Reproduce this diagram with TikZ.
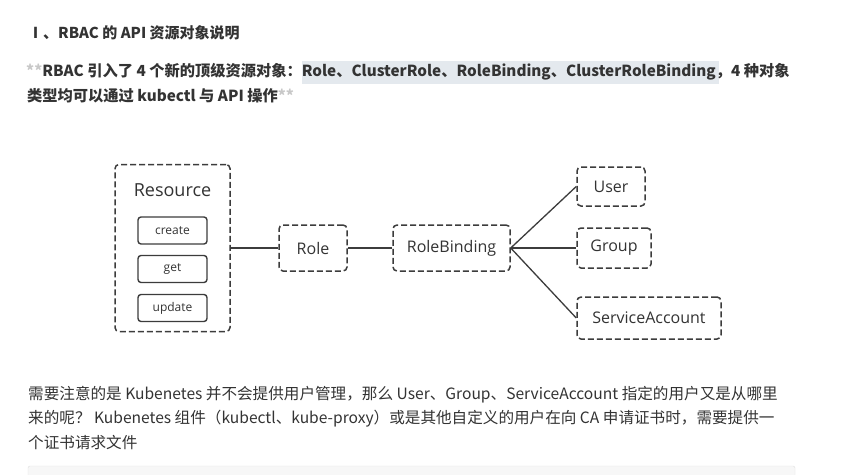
\documentclass[tikz,border=0pt]{standalone}
\usepackage{fontspec}
\setmainfont{Noto Sans CJK SC}
\newfontfamily\diag{Open Sans}
\usetikzlibrary{positioning}
\definecolor{ink}{HTML}{333333}
\definecolor{boxc}{HTML}{3C3C3C}
\definecolor{hl}{HTML}{E4E9EE}
\definecolor{star}{HTML}{C8C8C8}
\tikzset{
  dbox/.style={draw=boxc, line width=1.5pt, dash pattern=on 6pt off 3pt, rounded corners=4pt, inner sep=0pt, text=ink, font=\diag\fontsize{16}{18}\selectfont},
  sbox/.style={draw=boxc, line width=1.4pt, rounded corners=3pt, inner sep=0pt, text=ink, minimum width=69pt, minimum height=27pt, font=\diag\fontsize{12}{14}\selectfont},
  link/.style={draw=boxc, line width=1.3pt},
  txt/.style={anchor=west, inner sep=0pt, text=ink, font=\fontsize{15.6}{18}\selectfont},
  btxt/.style={anchor=west, inner sep=0pt, text=ink, font=\bfseries\fontsize{15.25}{18}\selectfont}
}
\begin{document}
\begin{tikzpicture}[x=1pt,y=-1pt]
\useasboundingbox (0,0) rectangle (854,474);
\fill[white] (0,0) rectangle (854,474);
% title
\node[btxt, font=\bfseries\fontsize{15}{17}\selectfont] (title) at (28,33) {Ⅰ、RBAC 的 API 资源对象说明};
% highlight
\fill[hl] (302,61) rectangle (719,84);
\node[btxt] (p1) at (26,72) {\textcolor{star}{**}RBAC 引入了 4 个新的顶级资源对象：Role、ClusterRole、RoleBinding、ClusterRoleBinding，4 种对象};
\node[btxt] (p2) at (27,96) {类型均可以通过 kubectl 与 API 操作\textcolor{star}{**}};
% diagram
\node[dbox, minimum width=115pt, minimum height=167pt] (res) at (172.5,248) {};
\node[text=ink, font=\diag\fontsize{18}{20}\selectfont, inner sep=0pt] (restxt) at (172.5,190) {Resource};
\node[sbox] (create) at (172.5,230.5) {create};
\node[sbox] (get) at (172.5,269) {get};
\node[sbox] (update) at (172.5,308) {update};
\node[dbox, minimum width=68pt, minimum height=46pt] (role) at (313,248) {Role};
\node[dbox, minimum width=117pt, minimum height=46pt] (rb) at (451.5,248) {RoleBinding};
\node[dbox, minimum width=68pt, minimum height=39pt] (user) at (611,186.5) {User};
\node[dbox, minimum width=74pt, minimum height=40pt] (group) at (614,248) {Group};
\node[dbox, minimum width=144pt, minimum height=42pt] (sa) at (649,318) {ServiceAccount};
\draw[link] (res.east) -- (role.west);
\draw[link] (role.east) -- (rb.west);
\draw[link] (rb.east) -- (user.west);
\draw[link] (rb.east) -- (group.west);
\draw[link] (rb.east) -- (sa.west);
% bottom text
\node[txt] (b1) at (28,395) {需要注意的是 Kubenetes 并不会提供用户管理，那么 User、Group、ServiceAccount 指定的用户又是从哪里};
\node[txt] (b2) at (28,419) {来的呢？ Kubenetes 组件（kubectl、kube-proxy）或是其他自定义的用户在向 CA 申请证书时，需要提供一};
\node[txt] (b3) at (28,443) {个证书请求文件};
\draw[draw=black!12, fill=black!3, rounded corners=2pt] (28,466) rectangle (795,490);
\end{tikzpicture}
\end{document}
